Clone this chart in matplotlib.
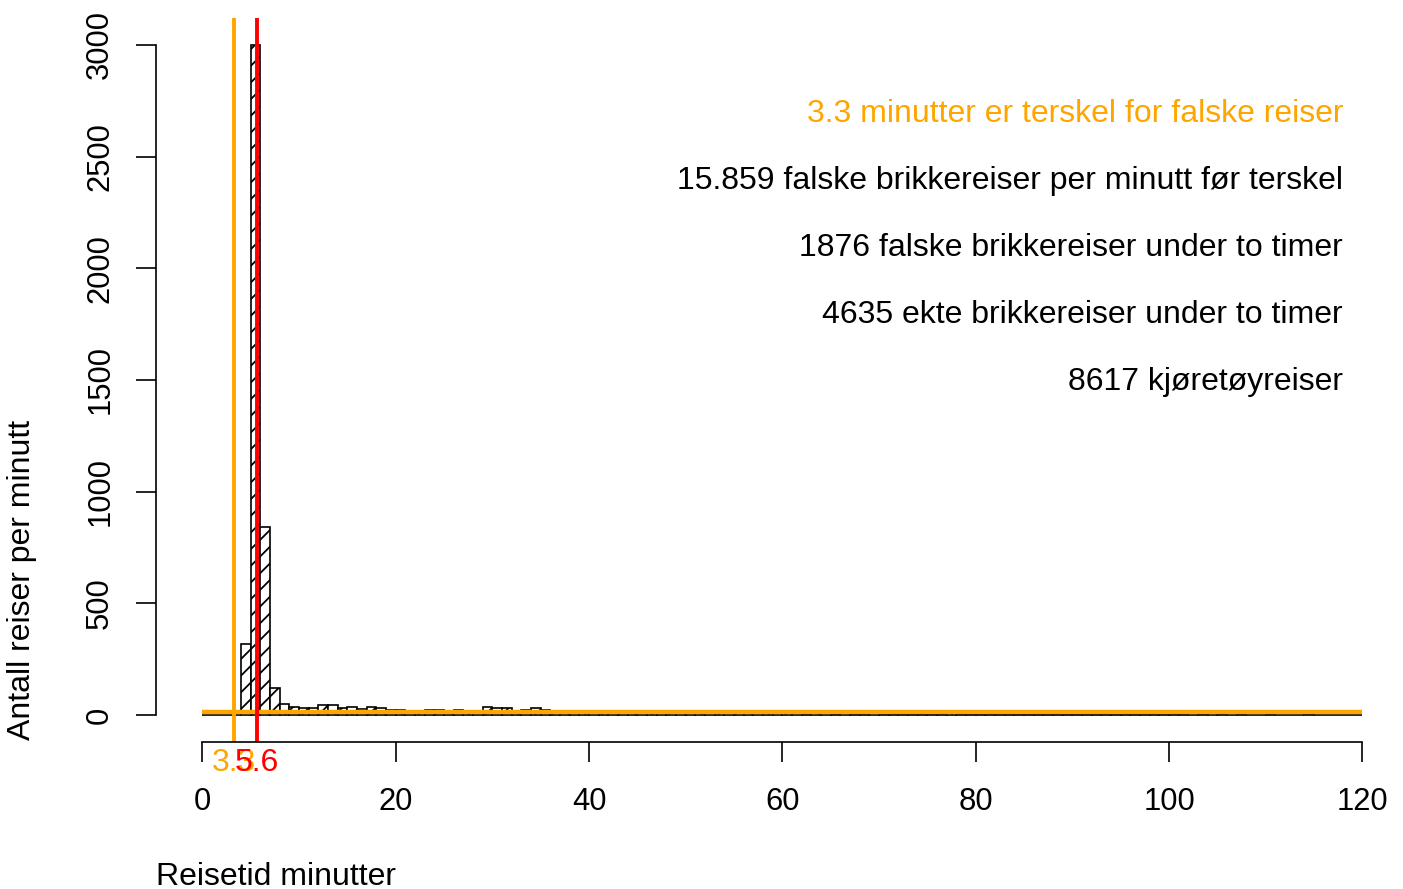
import matplotlib
matplotlib.use("Agg")
import matplotlib.pyplot as plt
import numpy as np

plt.rcParams["font.family"] = ["Liberation Sans", "DejaVu Sans"]
plt.rcParams["hatch.linewidth"] = 1.3
FS = 23
TICK_FS = 22.3

# antall reiser per 1-minutts intervall, 0-120 min
bin_edges = list(range(0, 121))
counts = [
    0, 0, 0, 0, 320, 3000, 840, 120, 50, 35,
    30, 32, 45, 45, 30, 35, 28, 38, 30, 25,
    22, 18, 20, 25, 25, 20, 22, 20, 18, 38,
    30, 32, 18, 22, 30, 22, 15, 12, 12, 11,
    17, 16, 12, 20, 20, 12, 10, 11, 10, 16,
    10, 9, 17, 11, 9, 8, 10, 8, 9, 8,
    9, 8, 7, 8, 9, 7, 8, 7, 6, 8,
    7, 6, 7, 6, 6, 7, 6, 17, 6, 5,
    6, 5, 6, 5, 5, 6, 5, 5, 4, 5,
    5, 4, 5, 4, 5, 4, 4, 5, 4, 4,
    4, 4, 3, 4, 17, 4, 3, 4, 3, 3,
    4, 3, 3, 3, 4, 3, 3, 3, 3, 3,
]

terskel = 3.3
median_tid = 5.6
falske_per_min = 15.859

info_text = [
    "3.3 minutter er terskel for falske reiser",
    "15.859 falske brikkereiser per minutt før terskel",
    "1876 falske brikkereiser under to timer",
    "4635 ekte brikkereiser under to timer",
    "8617 kjøretøyreiser",
]
info_y = [2700, 2400, 2100, 1800, 1500]
info_col = ["#FFA500", "black", "black", "black", "black"]

x_ticks = [0, 20, 40, 60, 80, 100, 120]
y_ticks = [0, 500, 1000, 1500, 2000, 2500, 3000]

W, H = 1403, 889
fig = plt.figure(figsize=(W / 100, H / 100), dpi=100)
ax = fig.add_axes([156 / W, 1 - 742 / H, 1252.8 / W, 724 / H])

ax.hist(bin_edges[:-1], bins=bin_edges, weights=counts, facecolor="white",
        edgecolor="black", linewidth=1.2, hatch="//")

ax.plot([0, 120], [falske_per_min, falske_per_min], color="#FFA500", lw=3.2,
        solid_capstyle="butt")
ax.axvline(terskel, color="#FFA500", lw=2.8)
ax.axvline(median_tid, color="#FF0000", lw=2.8)

# litt ned for å treffe R sin vertikale sentrering
for t, y, c in zip(info_text, info_y, info_col):
    ax.text(118, y - 8, t, ha="right", va="center", color=c, fontsize=FS)

ax.set_xlim(-4.8, 124.8)
ax.set_ylim(-120, 3120)

for s in ["top", "right"]:
    ax.spines[s].set_visible(False)
ax.spines["left"].set_bounds(0, 3000)
ax.spines["bottom"].set_bounds(0, 120)
ax.spines["left"].set_linewidth(1.2)
ax.spines["bottom"].set_linewidth(1.2)

ax.set_xticks(x_ticks)
ax.set_yticks(y_ticks)
ax.set_yticklabels([str(v) for v in y_ticks], rotation=90, va="center")
ax.tick_params(axis="both", direction="out", length=14.4, width=1.2,
               labelsize=TICK_FS)
ax.tick_params(axis="x", pad=18)
ax.tick_params(axis="y", pad=15)

# verdiene for linjene under aksen
trans = ax.get_xaxis_transform()
ax.text(terskel, -0.029, "3.3", color="#FFA500", ha="center", va="center",
        fontsize=FS, transform=trans, clip_on=False)
ax.text(median_tid, -0.029, "5.6", color="#FF0000", ha="center", va="center",
        fontsize=FS, transform=trans, clip_on=False)

fig.text(22 / W, 1 - 740 / H, "Antall reiser per minutt", rotation=90,
         ha="center", va="bottom", fontsize=FS)
fig.text(156 / W, 1 - 877 / H, "Reisetid minutter", ha="left", va="center",
         fontsize=FS)

fig.savefig("out.png", dpi=100)
